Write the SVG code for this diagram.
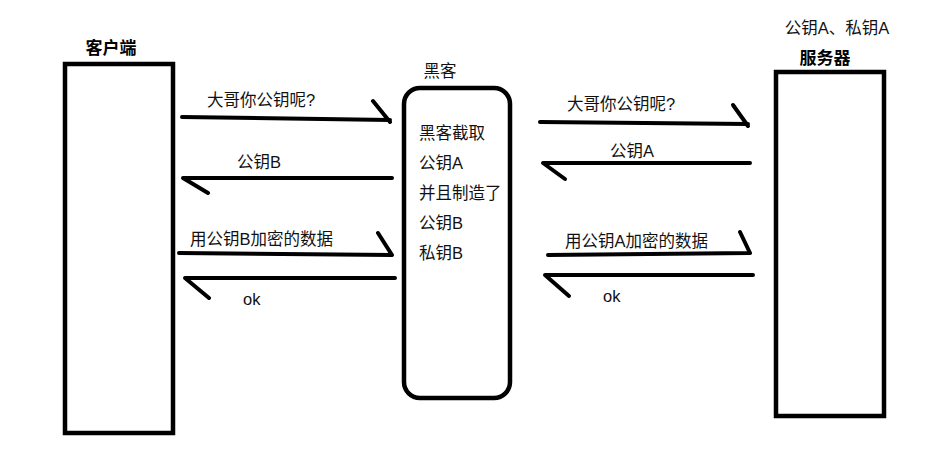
<svg xmlns="http://www.w3.org/2000/svg" width="932" height="450" viewBox="0 0 932 450">
<style>
.box{fill:#fff;stroke:#000;stroke-width:4.5}
.ln{fill:none;stroke:#000;stroke-width:4;stroke-linecap:round;stroke-linejoin:round}
text{font-family:"Liberation Sans","Noto Sans CJK SC",sans-serif;font-size:16.5px;fill:#111}
.b{font-weight:bold;font-size:17px;fill:#000}
</style>
<rect width="932" height="450" fill="#fff"/>
<g id="client">
<rect class="box" x="65" y="64" width="108" height="369"/>
<text class="b" x="111" y="54" text-anchor="middle">客户端</text>
</g>
<g id="hacker">
<rect class="box" x="404" y="88" width="106" height="310" rx="16"/>
<text x="440" y="77" text-anchor="middle">黑客</text>
<text x="419" y="139">黑客截取</text>
<text x="419" y="169">公钥A</text>
<text x="419" y="199">并且制造了</text>
<text x="419" y="229">公钥B</text>
<text x="419" y="259">私钥B</text>
</g>
<g id="server">
<rect class="box" x="776" y="72" width="108" height="344"/>
<text class="b" x="825" y="64" text-anchor="middle">服务器</text>
<text x="837" y="34" text-anchor="middle">公钥A、私钥A</text>
</g>
<g id="connectors">
<path class="ln" d="M182 117 L390 120 M373 101 L390 122"/>
<path class="ln" d="M392 178 L183 178 L208 193"/>
<path class="ln" d="M179 253 L392 255 M378 233 L392 255"/>
<path class="ln" d="M395 278 L185 278 L209 298"/>
<path class="ln" d="M540 122 L748 124 M733 105 L748 126"/>
<path class="ln" d="M750 163 L543 163 L565 179"/>
<path class="ln" d="M548 255 L750 253 M740 232 L750 253"/>
<path class="ln" d="M753 275 L545 275 L569 296"/>
</g>
<g id="labels">
<text x="207" y="106">大哥你公钥呢?</text>
<text x="237" y="168">公钥B</text>
<text x="190" y="245">用公钥B加密的数据</text>
<text x="243" y="305">ok</text>
<text x="567" y="110">大哥你公钥呢?</text>
<text x="610" y="157">公钥A</text>
<text x="565" y="247">用公钥A加密的数据</text>
<text x="603" y="302">ok</text>
</g>
</svg>
